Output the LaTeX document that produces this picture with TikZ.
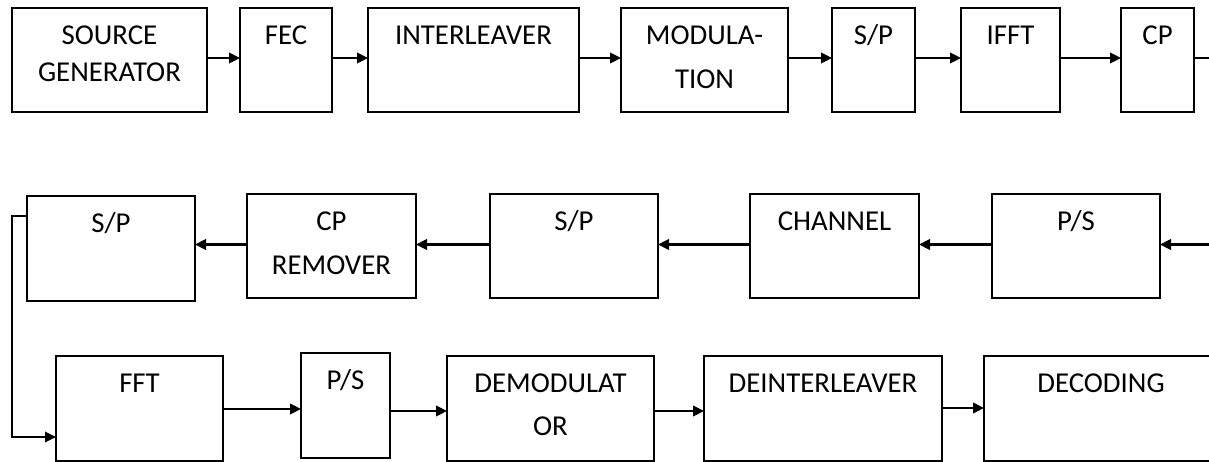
\documentclass[tikz,border=0pt]{standalone}
\usepackage{fontspec}
\setmainfont{Carlito}
\usetikzlibrary{arrows.meta}

% block text: width, height, line spacing, lines (top aligned, centred)
\newcommand\blocklabel[4]{\parbox[c][#2][t]{#1}{\centering\fontsize{28.8}{#3}\selectfont\rule{0pt}{36.5pt}#4}}

\tikzset{
  blk/.style={draw, line width=2.2pt, inner sep=0pt, outer sep=0pt, anchor=north west},
  arr/.style={line width=2.4pt, -{Triangle[length=11pt,width=10.5pt]}},
  wire/.style={line width=1.4pt},
}

\begin{document}
\begin{tikzpicture}[x=1pt,y=-1pt]
\useasboundingbox (0,0) rectangle (1209,462);
\clip (0,0) rectangle (1209,462);

% row levels of the connectors
\coordinate (ya) at (0,58);
\coordinate (yb) at (0,244.5);
\coordinate (yc) at (0,216);
\coordinate (yd) at (0,437);
\coordinate (y1) at (0,409);
\coordinate (y2) at (0,411);
\coordinate (y3) at (0,408);
\coordinate (edgeA) at (1209,58);
\coordinate (edgeB) at (1209,244.5);

% transmitter
\node[blk] (src)  at (12,8)   {\blocklabel{195pt}{104pt}{36.7pt}{SOURCE\\GENERATOR}};
\node[blk] (fec)  at (240,8)  {\blocklabel{92pt}{104pt}{44pt}{FEC}};
\node[blk] (intl) at (368,8)  {\blocklabel{211pt}{104pt}{44pt}{INTERLEAVER}};
\node[blk] (mod)  at (621,8)  {\blocklabel{167pt}{104pt}{44.5pt}{MODULA-\\TION}};
\node[blk] (spa)  at (832,8)  {\blocklabel{83pt}{104pt}{44pt}{S/P}};
\node[blk] (ifft) at (961,8)  {\blocklabel{99pt}{104pt}{44pt}{IFFT}};
\node[blk] (cp)   at (1121,8) {\blocklabel{73pt}{104pt}{44pt}{CP}};

% channel and front end
\node[blk] (spc)  at (27,196)  {\blocklabel{168pt}{105pt}{44pt}{S/P}};
\node[blk] (cprm) at (247,194) {\blocklabel{169pt}{104pt}{44pt}{CP\\REMOVER}};
\node[blk] (spb)  at (490,194) {\blocklabel{168pt}{104pt}{44pt}{S/P}};
\node[blk] (chan) at (750,194) {\blocklabel{169pt}{104pt}{44pt}{CHANNEL}};
\node[blk] (psa)  at (992,194) {\blocklabel{168pt}{104pt}{44pt}{P/S}};

% receiver
\node[blk] (fft)   at (56,356)  {\blocklabel{167pt}{105pt}{44pt}{FFT}};
\node[blk] (psb)   at (301,353) {\blocklabel{89pt}{105pt}{44pt}{P/S}};
\node[blk] (demod) at (447,356) {\blocklabel{207pt}{105pt}{42.5pt}{DEMODULAT\\OR}};
\node[blk] (deint) at (704,356) {\blocklabel{238pt}{105pt}{44pt}{DEINTERLEAVER}};
\node[blk] (dec)   at (984,356) {\blocklabel{234pt}{105pt}{44pt}{DECODING}};

% transmitter chain
\draw[arr] (src.east |- ya)  -- (fec.west |- ya);
\draw[arr] (fec.east |- ya)  -- (intl.west |- ya);
\draw[arr] (intl.east |- ya) -- (mod.west |- ya);
\draw[arr] (mod.east |- ya)  -- (spa.west |- ya);
\draw[arr] (spa.east |- ya)  -- (ifft.west |- ya);
\draw[arr] (ifft.east |- ya) -- (cp.west |- ya);
\draw[wire] (cp.east |- ya) -- (edgeA);

% second row, right to left
\draw[arr] (edgeB) -- (psa.east |- yb);
\draw[arr] (psa.west |- yb)  -- (chan.east |- yb);
\draw[arr] (chan.west |- yb) -- (spb.east |- yb);
\draw[arr] (spb.west |- yb)  -- (cprm.east |- yb);
\draw[arr] (cprm.west |- yb) -- (spc.east |- yb);

% feedback down to the FFT
\draw[arr, line width=1.8pt] (spc.west |- yc) -- ++(-15,0) |- (fft.west |- yd);

% receiver chain
\draw[arr] (fft.east |- y1)   -- (psb.west |- y1);
\draw[arr] (psb.east |- y2)   -- (demod.west |- y2);
\draw[arr] (demod.east |- y2) -- (deint.west |- y2);
\draw[arr] (deint.east |- y3) -- (dec.west |- y3);
\end{tikzpicture}
\end{document}
